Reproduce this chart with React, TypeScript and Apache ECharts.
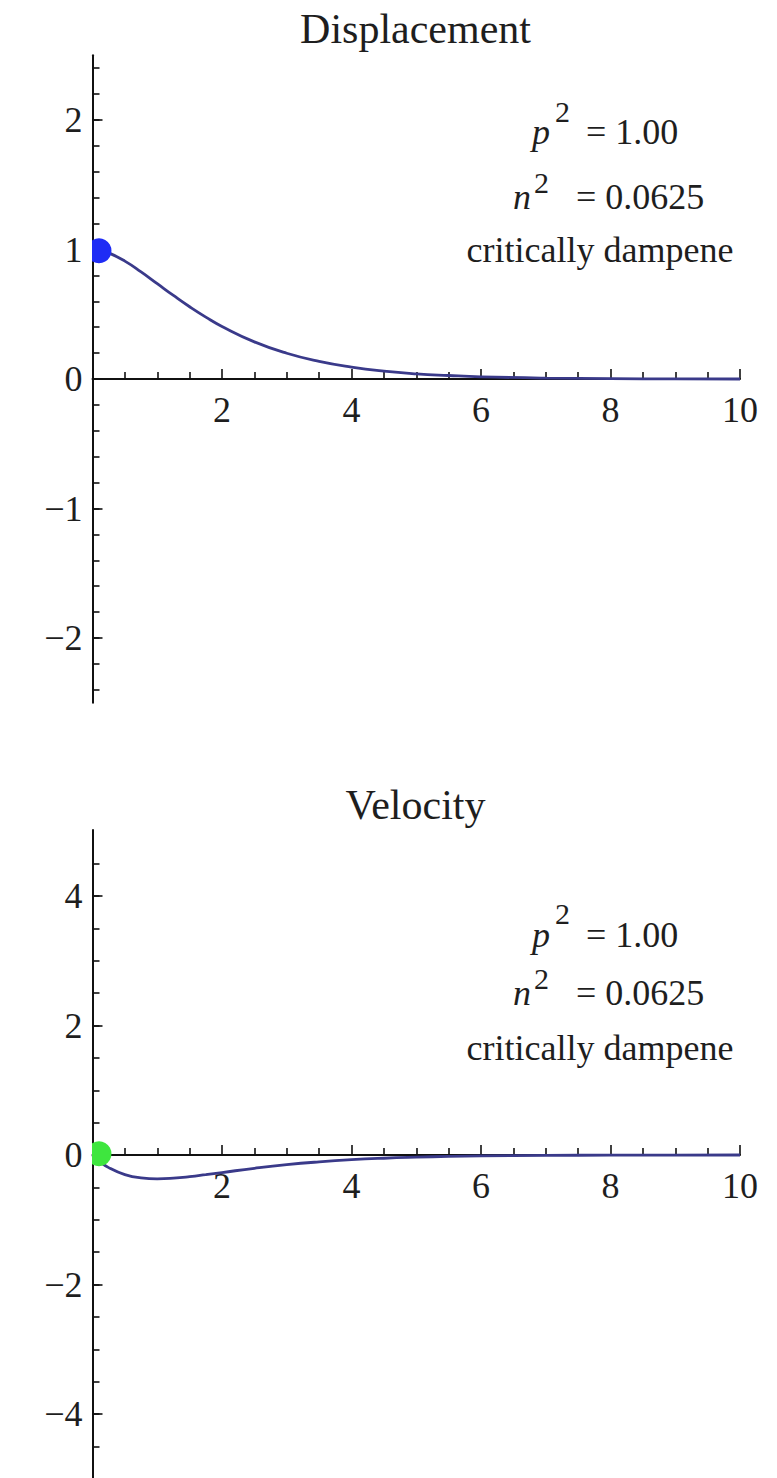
import React, { useEffect, useRef } from "react";
import * as echarts from "echarts";

// time samples
const times = [0, 0.1, 0.25, 0.5, 0.75, 1, 1.25, 1.5, 1.75, 2, 2.5, 3, 3.5, 4, 4.5, 5, 5.5, 6, 7, 8, 9, 10];
// displacement curve values
const displacement = [1.0, 0.995, 0.974, 0.91, 0.827, 0.736, 0.645, 0.558, 0.478, 0.406, 0.287, 0.199, 0.136, 0.092, 0.061, 0.04, 0.027, 0.017, 0.007, 0.003, 0.001, 0.0];
// velocity curve values
const velocity = [0, -0.09, -0.195, -0.303, -0.354, -0.368, -0.358, -0.335, -0.304, -0.271, -0.205, -0.149, -0.106, -0.073, -0.05, -0.034, -0.022, -0.015, -0.006, -0.003, -0.001, 0];
// starting points (dots)
const dispStart = [0.1, 0.99];
const velStart = [0.1, 0.02];

const titles = ["Displacement", "Velocity"];
const pLine = ["p", "2", "= 1.00"];
const nLine = ["n", "2", "  = 0.0625"];
const dampLabel = "critically dampene";

const xRange = [0, 10];
const dispRange = [-2.5, 2.5];
const velRange = [-5, 5.02];

const FONT = "'Liberation Serif', 'Times New Roman', serif";
const AXIS = "#111";
const TXT = "#1e1e1e";

const X_LEFT = 92.5;
const X_WIDTH = 647.5;

function gridFor(zero: number, py: number, min: number, max: number) {
  return {
    left: X_LEFT,
    width: X_WIDTH,
    top: zero - max * py,
    height: (max - min) * py,
    containLabel: false,
    outerBoundsMode: "none",
  };
}

const fmtY = (v: number) => {
  if (Math.abs(v - Math.round(v)) > 1e-6) return "";
  const r = Math.round(v);
  return r < 0 ? "\u2212" + Math.abs(r) : String(r);
};

function hiddenX(gridIndex: number) {
  return { gridIndex, type: "value", min: xRange[0], max: xRange[1], show: false };
}

function mainX(gridIndex: number) {
  return {
    gridIndex,
    type: "value",
    min: xRange[0],
    max: xRange[1],
    interval: 2,
    axisLine: { show: true, onZero: true, lineStyle: { color: AXIS, width: 2 } },
    axisTick: { show: true, inside: true, length: 10, lineStyle: { color: AXIS, width: 1.6 } },
    minorTick: { show: true, splitNumber: 4, length: 7, lineStyle: { color: AXIS, width: 1.6 } },
    axisLabel: { show: false },
    splitLine: { show: false },
  };
}

function labelX(gridIndex: number) {
  return {
    gridIndex,
    type: "value",
    position: "bottom",
    min: xRange[0],
    max: xRange[1],
    interval: 2,
    axisLine: { show: false, onZero: false },
    axisTick: { show: false },
    axisLabel: {
      show: true,
      margin: 13,
      fontSize: 36,
      fontFamily: FONT,
      color: TXT,
      formatter: (v: number) => (v === 0 ? "" : String(v)),
    },
    splitLine: { show: false },
  };
}

function lineY(gridIndex: number, range: number[]) {
  return {
    gridIndex,
    type: "value",
    min: range[0],
    max: range[1],
    axisLine: { show: true, onZero: false, lineStyle: { color: AXIS, width: 2 } },
    axisTick: { show: false },
    axisLabel: { show: false },
    splitLine: { show: false },
  };
}

function hiddenY(gridIndex: number) {
  return { gridIndex, type: "value", min: 0, max: 1, show: false };
}

function tickY(gridIndex: number, min: number, max: number, interval: number, length: number, labels: boolean) {
  return {
    gridIndex,
    type: "value",
    min,
    max,
    interval,
    axisLine: { show: false, onZero: false },
    axisTick: { show: true, inside: true, length, lineStyle: { color: AXIS, width: 1.6 } },
    axisLabel: {
      show: labels,
      margin: 10,
      fontSize: 36,
      fontFamily: FONT,
      color: TXT,
      formatter: fmtY,
    },
    splitLine: { show: false },
  };
}

function dotSeries(xi: number, point: number[], color: string) {
  return {
    type: "custom",
    xAxisIndex: xi,
    yAxisIndex: xi,
    clip: true,
    z: 5,
    data: [point],
    renderItem: (_p: any, api: any) => {
      const c = api.coord([api.value(0), api.value(1)]);
      return {
        type: "circle",
        shape: { cx: c[0], cy: c[1], r: 12.5 },
        style: { fill: color },
      };
    },
  };
}

function txt(text: string, x: number, y: number, size: number, align: string, italic = false) {
  return {
    type: "text",
    x,
    y,
    style: {
      text,
      fontSize: size,
      fontFamily: FONT,
      fontStyle: italic ? "italic" : "normal",
      fill: TXT,
      align,
      verticalAlign: "middle",
    },
  };
}

function annotation(pY: number, pSupY: number, nY: number, nSupY: number, cY: number) {
  return [
    txt(pLine[0], 532, pY, 36, "left", true),
    txt(pLine[1], 555, pSupY, 30, "left"),
    txt(pLine[2], 586, pY, 36, "left"),
    txt(nLine[0], 513, nY, 36, "left", true),
    txt(nLine[1], 534, nSupY, 30, "left"),
    txt(nLine[2], 558, nY, 36, "left"),
    txt(dampLabel, 600, cY, 36, "center"),
  ];
}

export default function App() {
  const ref = useRef<HTMLDivElement>(null);
  useEffect(() => {
    if (!ref.current) return;
    const chart = echarts.init(ref.current, undefined, { renderer: "svg" });
    const dispData = times.map((t, i) => [t, displacement[i]]);
    const velData = times.map((t, i) => [t, velocity[i]]);
    const option: any = {
      animation: false,
      backgroundColor: "#ffffff",
      grid: [
        gridFor(379, 129.5, dispRange[0], dispRange[1]),
        gridFor(379, 129.5, -2.4, 2.4),
        gridFor(379, 129.5, -2, 2),
        gridFor(1155, 64.75, velRange[0], velRange[1]),
        gridFor(1155, 64.75, -4.5, 4.5),
        gridFor(1155, 64.75, -4, 4),
        gridFor(379, 40, 0, 1),
        gridFor(1155, 40, 0, 1),
      ],
      xAxis: [
        mainX(0), hiddenX(1), hiddenX(2),
        mainX(3), hiddenX(4), hiddenX(5),
        labelX(6), labelX(7),
      ],
      yAxis: [
        lineY(0, dispRange),
        tickY(1, -2.4, 2.4, 0.2, 7, false),
        tickY(2, -2, 2, 1, 10, true),
        lineY(3, velRange),
        tickY(4, -4.5, 4.5, 0.5, 7, false),
        tickY(5, -4, 4, 2, 10, true),
        hiddenY(6),
        hiddenY(7),
      ],
      series: [
        {
          type: "line",
          xAxisIndex: 0,
          yAxisIndex: 0,
          data: dispData,
          smooth: 0.5,
          showSymbol: false,
          lineStyle: { color: "#3a3a8a", width: 2.8 },
          z: 3,
        },
        {
          type: "line",
          xAxisIndex: 3,
          yAxisIndex: 3,
          data: velData,
          smooth: 0.5,
          showSymbol: false,
          lineStyle: { color: "#3a3a8a", width: 2.8 },
          z: 3,
        },
        dotSeries(0, dispStart, "#1f2cf5"),
        dotSeries(3, velStart, "#3ee63e"),
      ],
      graphic: [
        txt(titles[0], 415.5, 29, 42, "center"),
        txt(titles[1], 415.5, 805, 42, "center"),
        ...annotation(132, 111, 197, 182, 250),
        ...annotation(935, 913, 993, 978, 1048),
      ],
    };
    chart.setOption(option);
    return () => chart.dispose();
  }, []);
  return (
    <div
      ref={ref}
      style={{ position: "absolute", left: 0, top: 0, width: 777, height: 1478 }}
    />
  );
}
